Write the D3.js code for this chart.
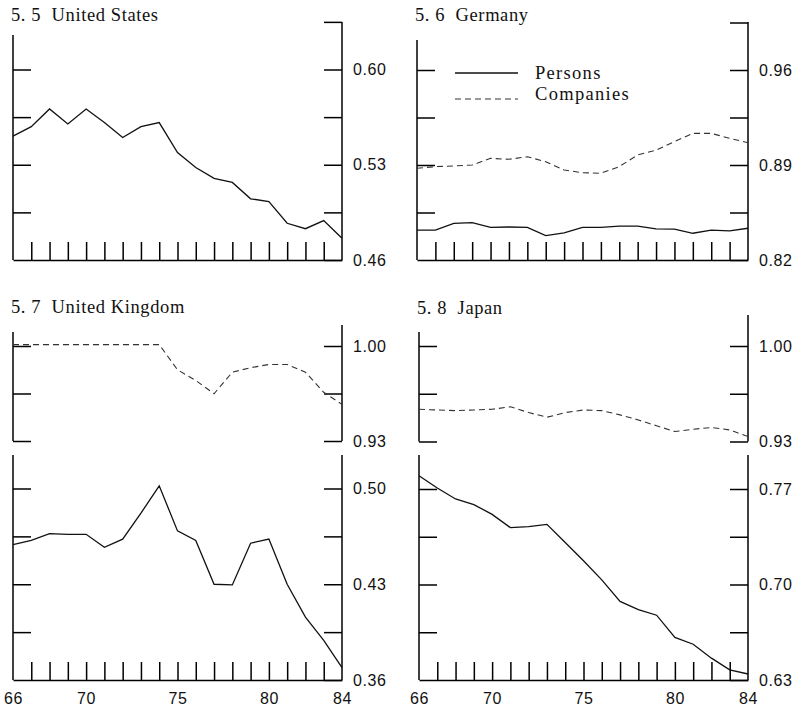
<!DOCTYPE html>
<html>
<head>
<meta charset="utf-8">
<script src="https://cdn.jsdelivr.net/npm/d3@7"></script>
<style>
  html, body { margin: 0; padding: 0; background: #fff; }
  svg { display: block; }
  .title, .legend { font-family: "Liberation Serif", "Times New Roman", serif; white-space: pre; }
  .lab text { font-family: "Liberation Sans", Arial, sans-serif; }
</style>
</head>
<body>
<svg id="chart" width="798" height="714"></svg>
<script>
// ---------- data ----------
const years = [66, 67, 68, 69, 70, 71, 72, 73, 74, 75, 76, 77, 78, 79, 80, 81, 82, 83, 84];
const minorYears = [67, 68, 69, 70, 71, 72, 73, 74, 75, 76, 77, 78, 79, 80, 81, 82, 83];
const yearLabels = [66, 70, 75, 80, 84];

const usPersons = [0.551, 0.558, 0.571, 0.560, 0.571, 0.561, 0.550, 0.558, 0.561, 0.539, 0.528, 0.520, 0.517, 0.505, 0.503, 0.487, 0.483, 0.489, 0.476];

const dePersons = [0.842, 0.842, 0.847, 0.8475, 0.844, 0.8443, 0.844, 0.838, 0.840, 0.844, 0.844, 0.845, 0.845, 0.843, 0.8427, 0.8397, 0.842, 0.8414, 0.8434];
const deCompanies = [0.8876, 0.8888, 0.8893, 0.890, 0.8949, 0.8942, 0.8961, 0.8924, 0.8863, 0.8843, 0.8839, 0.8888, 0.8974, 0.901, 0.9072, 0.9133, 0.9133, 0.9097, 0.9064];

const ukCompanies = [1.001, 1.001, 1.001, 1.001, 1.001, 1.001, 1.001, 1.001, 1.001, 0.9825, 0.9746, 0.9648, 0.9807, 0.9840, 0.9864, 0.9864, 0.9807, 0.9659, 0.9570];
const ukPersons = [0.459, 0.462, 0.467, 0.4665, 0.4665, 0.457, 0.463, 0.482, 0.502, 0.469, 0.462, 0.430, 0.4295, 0.460, 0.463, 0.430, 0.406, 0.389, 0.369];

const jpCompanies = [0.9536, 0.9531, 0.9526, 0.9531, 0.9536, 0.9555, 0.9512, 0.9478, 0.9512, 0.9531, 0.9526, 0.9495, 0.9458, 0.9415, 0.9373, 0.9390, 0.9402, 0.9385, 0.9336];
const jpPersons = [0.7797, 0.7707, 0.7627, 0.7586, 0.7514, 0.7417, 0.7424, 0.7441, 0.7308, 0.7174, 0.7034, 0.6876, 0.6816, 0.6775, 0.6612, 0.6562, 0.6460, 0.6375, 0.6344];

const usTicks = [0.495, 0.53, 0.565, 0.60];
const usTopTick = [0.635];
const usLabels = [0.46, 0.53, 0.60];
const deTicks = [0.855, 0.89, 0.925, 0.96];
const deTopTick = [0.995];
const deLabels = [0.82, 0.89, 0.96];
const compTicks = [0.93, 0.965, 1.00];
const compLabels = [0.93, 1.00];
const ukTicks = [0.395, 0.43, 0.465, 0.50];
const ukLabels = [0.36, 0.43, 0.50];
const jpTicks = [0.665, 0.70, 0.735, 0.77];
const jpLabels = [0.63, 0.70, 0.77];

const titles = ["5. 5  United States", "5. 6  Germany", "5. 7  United Kingdom", "5. 8  Japan"];
const legendNames = ["Persons", "Companies"];

// ---------- layout ----------
const svg = d3.select("#chart");
const TICK = 18;
const DASH = "6,4";

const panels = [
  { title: titles[0], x0: 13, x1: 342, tx: 11, ty: 21,
    parts: [{ domain: [0.46, 0.60], range: [260, 69.5], leftTop: 35, rightTop: 22,
              ticks: usTicks, extraRight: usTopTick, labels: usLabels, bottom: true, yearLab: false,
              series: [{ v: usPersons, dashed: false }] }] },
  { title: titles[1], x0: 417, x1: 748, tx: 415, ty: 21,
    parts: [{ domain: [0.82, 0.96], range: [260, 70], leftTop: 40, rightTop: 22,
              ticks: deTicks, extraRight: deTopTick, labels: deLabels, bottom: true, yearLab: false,
              series: [{ v: dePersons, dashed: false }, { v: deCompanies, dashed: true }] }],
    legend: true },
  { title: titles[2], x0: 13, x1: 342, tx: 11, ty: 313,
    parts: [
      { domain: [0.93, 1.00], range: [441, 346], leftTop: 332, rightTop: 325,
        ticks: compTicks, extraRight: [], labels: compLabels, bottom: false,
        series: [{ v: ukCompanies, dashed: true }] },
      { domain: [0.36, 0.50], range: [680, 488.5], leftTop: 455, rightTop: 455,
        ticks: ukTicks, extraRight: [], labels: ukLabels, bottom: true, yearLab: true,
        series: [{ v: ukPersons, dashed: false }] }] },
  { title: titles[3], x0: 419, x1: 748, tx: 417, ty: 314,
    parts: [
      { domain: [0.93, 1.00], range: [441.5, 346], leftTop: 332, rightTop: 315,
        ticks: compTicks, extraRight: [], labels: compLabels, bottom: false,
        series: [{ v: jpCompanies, dashed: true }] },
      { domain: [0.63, 0.77], range: [680, 489], leftTop: 455, rightTop: 455,
        ticks: jpTicks, extraRight: [], labels: jpLabels, bottom: true, yearLab: true,
        series: [{ v: jpPersons, dashed: false }] }] }
];

const fmt = d3.format(".2f");

panels.forEach(p => {
  const x = d3.scaleLinear().domain([years[0], years[years.length - 1]]).range([p.x0, p.x1]);
  const g = svg.append("g");

  g.append("text").attr("class", "title")
    .attr("x", p.tx).attr("y", p.ty)
    .attr("font-size", 18.5).attr("letter-spacing", 0.6).attr("fill", "#111")
    .text(p.title);

  p.parts.forEach(part => {
    const y = d3.scaleLinear().domain(part.domain).range(part.range);
    const yBottom = part.range[0];

    // spines
    g.append("line").attr("x1", p.x0).attr("x2", p.x0)
      .attr("y1", yBottom).attr("y2", part.leftTop)
      .attr("stroke", "#000").attr("stroke-width", 1.5);
    g.append("line").attr("x1", p.x1).attr("x2", p.x1)
      .attr("y1", yBottom).attr("y2", part.rightTop)
      .attr("stroke", "#000").attr("stroke-width", 1.5);

    // left ticks (inward)
    const la = g.append("g").attr("transform", `translate(${p.x0},0)`)
      .call(d3.axisLeft(y).tickValues(part.ticks).tickSize(-TICK).tickFormat(""));
    la.select(".domain").remove();
    la.selectAll(".tick line").attr("stroke", "#000").attr("stroke-width", 1.5);

    // right ticks + labels
    const rVals = Array.from(new Set(part.ticks.concat(part.extraRight, part.labels)));
    const ra = g.append("g").attr("class", "lab").attr("transform", `translate(${p.x1},0)`)
      .call(d3.axisRight(y).tickValues(rVals).tickSize(-TICK).tickPadding(11)
        .tickFormat(d => part.labels.includes(d) ? fmt(d) : ""));
    ra.select(".domain").remove();
    ra.selectAll(".tick line").attr("stroke", "#000").attr("stroke-width", 1.5);
    ra.selectAll(".tick text").attr("font-size", 16).attr("fill", "#111").attr("letter-spacing", 0.6);

    // bottom axis
    if (part.bottom) {
      const ba = g.append("g").attr("transform", `translate(0,${yBottom})`)
        .call(d3.axisBottom(x).tickValues(minorYears).tickSize(-TICK).tickSizeOuter(0).tickFormat(""));
      ba.select(".domain").attr("stroke", "#000").attr("stroke-width", 1.5);
      ba.selectAll(".tick line").attr("stroke", "#000").attr("stroke-width", 1.5);
      if (part.yearLab) {
        const yl = g.append("g").attr("class", "lab").attr("transform", `translate(0,${yBottom})`)
          .call(d3.axisBottom(x).tickValues(yearLabels).tickSize(0).tickPadding(13).tickFormat(d => d));
        yl.select(".domain").remove();
        yl.selectAll(".tick text").attr("font-size", 16).attr("fill", "#111").attr("letter-spacing", 0.6);
      }
    }

    // series
    part.series.forEach(s => {
      const line = d3.line().x((d, i) => x(years[i])).y(d => y(d));
      g.append("path").datum(s.v)
        .attr("d", line)
        .attr("fill", "none")
        .attr("stroke", s.dashed ? "#333" : "#111")
        .attr("stroke-width", s.dashed ? 1.1 : 1.3)
        .attr("stroke-dasharray", s.dashed ? DASH : null);
    });
  });

  if (p.legend) {
    const lg = g.append("g");
    const items = [{ name: legendNames[0], dashed: false, ly: 73, ty: 79 },
                   { name: legendNames[1], dashed: true, ly: 99, ty: 100 }];
    items.forEach(it => {
      lg.append("line").attr("x1", 455).attr("x2", 518).attr("y1", it.ly).attr("y2", it.ly)
        .attr("stroke", it.dashed ? "#333" : "#111")
        .attr("stroke-width", it.dashed ? 1.1 : 1.3)
        .attr("stroke-dasharray", it.dashed ? DASH : null);
      lg.append("text").attr("class", "legend").attr("x", 535).attr("y", it.ty)
        .attr("font-size", 18.5).attr("letter-spacing", 1.3).attr("fill", "#111")
        .text(it.name);
    });
  }
});
</script>
</body>
</html>
